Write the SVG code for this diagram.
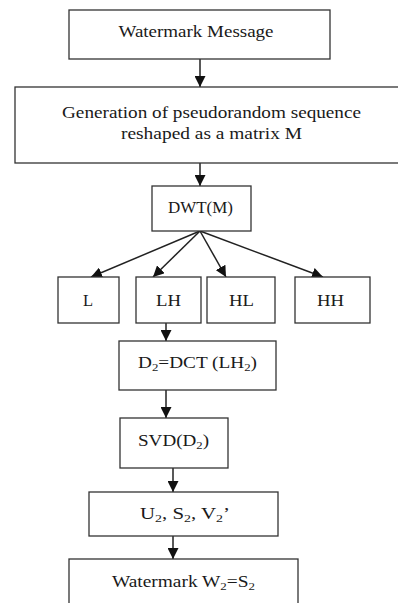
<svg xmlns="http://www.w3.org/2000/svg" width="398" height="603" viewBox="0 0 398 603">
  <defs>
    <marker id="ah" viewBox="0 0 10 10" refX="10" refY="5" markerWidth="11" markerHeight="11" markerUnits="userSpaceOnUse" orient="auto">
      <path d="M0,0 L10,5 L0,10 Z" fill="#111"/>
    </marker>
    <style>
      .box { fill: #fff; stroke: #333; stroke-width: 1.3; }
      .lbl { font-family: "Liberation Serif", "Times New Roman", serif; font-size: 16.5px; fill: #1a1a1a; text-anchor: middle; }
      .sub { font-size: 11px; }
      .edge { stroke: #222; stroke-width: 1.5; fill: none; marker-end: url(#ah); }
    </style>
  </defs>
  <rect width="398" height="603" fill="#fff"/>

  <g id="connectors">
    <line class="edge" x1="200" y1="59" x2="200" y2="87"/>
    <line class="edge" x1="200" y1="163" x2="200" y2="186"/>
    <line class="edge" x1="200" y1="231" x2="91" y2="277"/>
    <line class="edge" x1="200" y1="231" x2="153" y2="277"/>
    <line class="edge" x1="200" y1="231" x2="226" y2="277"/>
    <line class="edge" x1="200" y1="231" x2="323" y2="277"/>
    <line class="edge" x1="166" y1="323" x2="166" y2="341"/>
    <line class="edge" x1="166" y1="390" x2="166" y2="418"/>
    <line class="edge" x1="173" y1="468" x2="173" y2="492"/>
    <line class="edge" x1="173" y1="536" x2="173" y2="559"/>
  </g>

  <g id="watermark-message">
    <rect class="box" x="69" y="10" width="261" height="49"/>
    <text class="lbl" x="196" y="37" textLength="155" lengthAdjust="spacingAndGlyphs">Watermark Message</text>
  </g>

  <g id="generation">
    <rect class="box" x="15" y="87" width="390" height="76"/>
    <text class="lbl" x="211.5" y="118" textLength="299" lengthAdjust="spacingAndGlyphs">Generation of pseudorandom sequence</text>
    <text class="lbl" x="211.5" y="139" textLength="181" lengthAdjust="spacingAndGlyphs">reshaped as a matrix M</text>
  </g>

  <g id="dwt">
    <rect class="box" x="152" y="186" width="99" height="45"/>
    <text class="lbl" x="200.5" y="213" textLength="65" lengthAdjust="spacingAndGlyphs">DWT(M)</text>
  </g>

  <g id="band-l">
    <rect class="box" x="58" y="277" width="61" height="46"/>
    <text class="lbl" x="88" y="306">L</text>
  </g>
  <g id="band-lh">
    <rect class="box" x="136" y="277" width="65" height="46"/>
    <text class="lbl" x="168.5" y="306" textLength="25" lengthAdjust="spacingAndGlyphs">LH</text>
  </g>
  <g id="band-hl">
    <rect class="box" x="207" y="277" width="68" height="46"/>
    <text class="lbl" x="241.5" y="306" textLength="25" lengthAdjust="spacingAndGlyphs">HL</text>
  </g>
  <g id="band-hh">
    <rect class="box" x="295" y="277" width="75" height="46"/>
    <text class="lbl" x="330.5" y="306" textLength="27" lengthAdjust="spacingAndGlyphs">HH</text>
  </g>

  <g id="dct">
    <rect class="box" x="119" y="341" width="157" height="49"/>
    <text class="lbl" x="197.5" y="368" textLength="119" lengthAdjust="spacingAndGlyphs">D<tspan class="sub" dy="2.5">2</tspan><tspan dy="-2.5">=DCT (LH</tspan><tspan class="sub" dy="2.5">2</tspan><tspan dy="-2.5">)</tspan></text>
  </g>

  <g id="svd">
    <rect class="box" x="120" y="418" width="108" height="50"/>
    <text class="lbl" x="173.5" y="446" textLength="71" lengthAdjust="spacingAndGlyphs">SVD(D<tspan class="sub" dy="2.5">2</tspan><tspan dy="-2.5">)</tspan></text>
  </g>

  <g id="usv">
    <rect class="box" x="89" y="492" width="189" height="44"/>
    <text class="lbl" x="185" y="519" textLength="90" lengthAdjust="spacingAndGlyphs">U<tspan class="sub" dy="2.5">2</tspan><tspan dy="-2.5">, S</tspan><tspan class="sub" dy="2.5">2</tspan><tspan dy="-2.5">, V</tspan><tspan class="sub" dy="2.5">2</tspan><tspan dy="-2.5">’</tspan></text>
  </g>

  <g id="watermark-w2">
    <rect class="box" x="69" y="559" width="229" height="60"/>
    <text class="lbl" x="183.5" y="587" textLength="143" lengthAdjust="spacingAndGlyphs">Watermark W<tspan class="sub" dy="2.5">2</tspan><tspan dy="-2.5">=S</tspan><tspan class="sub" dy="2.5">2</tspan></text>
  </g>
</svg>
